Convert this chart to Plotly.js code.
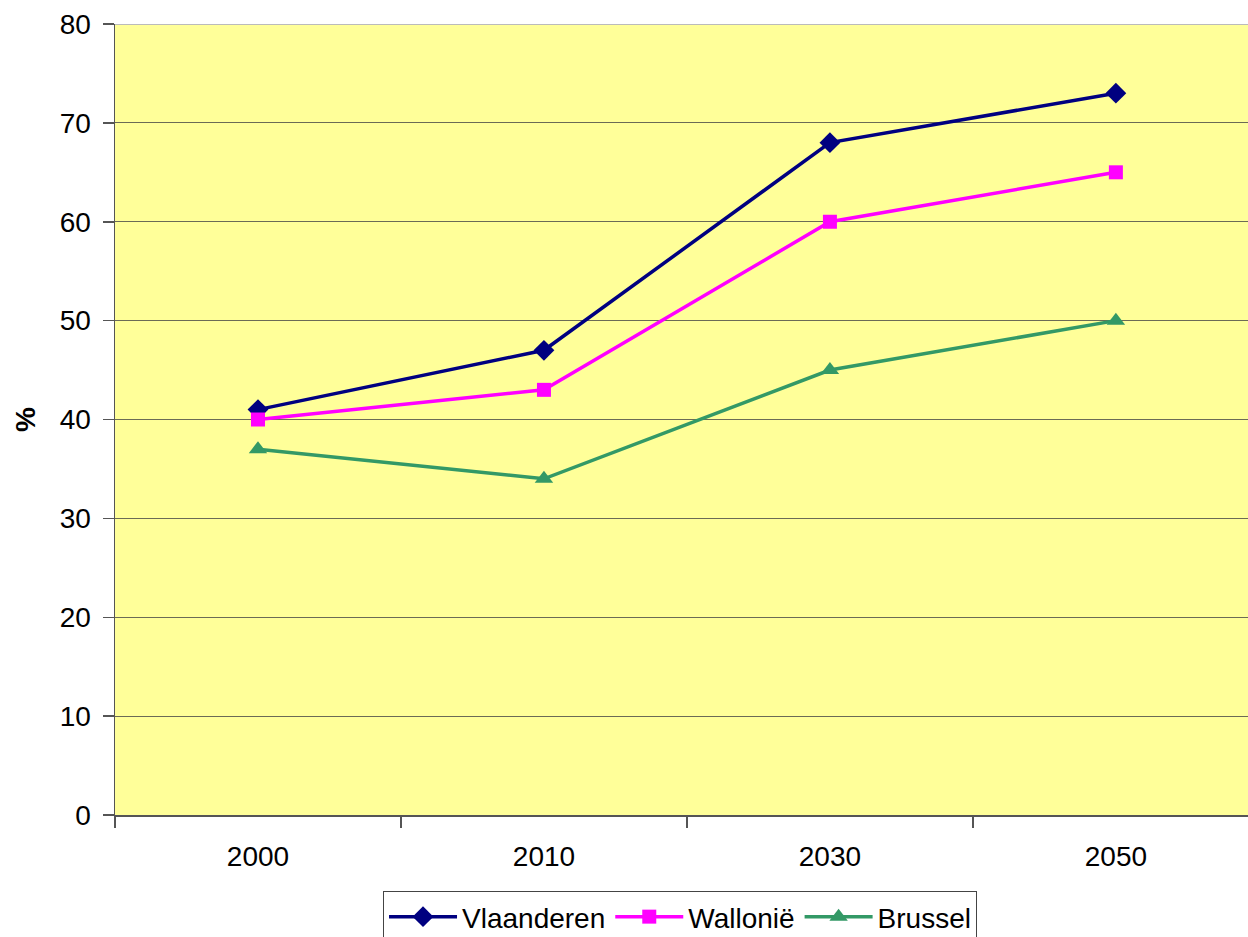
<!DOCTYPE html>
<html>
<head>
<meta charset="utf-8">
<script src="https://cdn.plot.ly/plotly-3.0.1.min.js"></script>
<style>html,body{margin:0;padding:0;background:#fff;}#chart{width:1248px;height:937px;}</style>
</head>
<body>
<div id="chart"></div>
<script>
const years = ['2000', '2010', '2030', '2050'];
const vlaanderen = [41, 47, 68, 73];
const wallonie = [40, 43, 60, 65];
const brussel = [37, 34, 45, 50];
const yTicks = [0, 10, 20, 30, 40, 50, 60, 70, 80];

const font = 'Liberation Sans, Arial, sans-serif';
const traces = [
  {x: years, y: vlaanderen, name: 'Vlaanderen', type: 'scatter', mode: 'lines+markers',
   line: {color: '#000080', width: 3.5}, marker: {symbol: 'diamond', size: 16, color: '#000080'}},
  {x: years, y: wallonie, name: 'Wallonië', type: 'scatter', mode: 'lines+markers',
   line: {color: '#FF00FF', width: 3.5}, marker: {symbol: 'square', size: 14, color: '#FF00FF'}},
  {x: years, y: brussel, name: 'Brussel', type: 'scatter', mode: 'lines+markers',
   line: {color: '#339966', width: 3.5}, marker: {symbol: 'triangle-up', size: 16, color: '#339966'}}
];

const layout = {
  width: 1248, height: 937,
  margin: {l: 115, r: 0, t: 24, b: 122, autoexpand: false},
  paper_bgcolor: '#ffffff',
  plot_bgcolor: '#FFFF99',
  font: {family: font, color: '#000', size: 28},
  showlegend: true,
  legend: {
    orientation: 'h', x: 0.4987, xanchor: 'center', y: -0.096, yanchor: 'top',
    bgcolor: '#ffffff', bordercolor: '#444', borderwidth: 1,
    font: {family: font, size: 28, color: '#000'},
    itemwidth: 68, tracegroupgap: 0
  },
  xaxis: {
    type: 'category', categoryarray: years, range: [-0.5, 3.462],
    showgrid: false, zeroline: false,
    showline: true, linecolor: '#555', linewidth: 1.5,
    ticks: 'outside', tickson: 'boundaries', ticklen: 11, tickcolor: '#555', tickwidth: 1.5,
    ticklabelstandoff: 16,
    tickfont: {family: font, size: 28, color: '#000'}
  },
  yaxis: {
    range: [0, 80], tickvals: yTicks, ticktext: yTicks.map(String),
    showgrid: true, gridcolor: '#6b6b55', gridwidth: 1,
    zeroline: false,
    showline: true, linecolor: '#555', linewidth: 1.5,
    ticks: 'outside', ticklen: 11, tickcolor: '#555', tickwidth: 1.5,
    ticklabelstandoff: 6,
    tickfont: {family: font, size: 28, color: '#000'},
    title: {text: '<b>%</b>', font: {family: font, size: 28, color: '#000'}, standoff: 16}
  },
  shapes: [
    {type: 'line', xref: 'paper', yref: 'y', x0: 0, x1: 1, y0: 80, y1: 80,
     line: {color: '#bbbbbb', width: 2}}
  ]
};

Plotly.newPlot('chart', traces, layout, {displayModeBar: false, staticPlot: true});
</script>
</body>
</html>
